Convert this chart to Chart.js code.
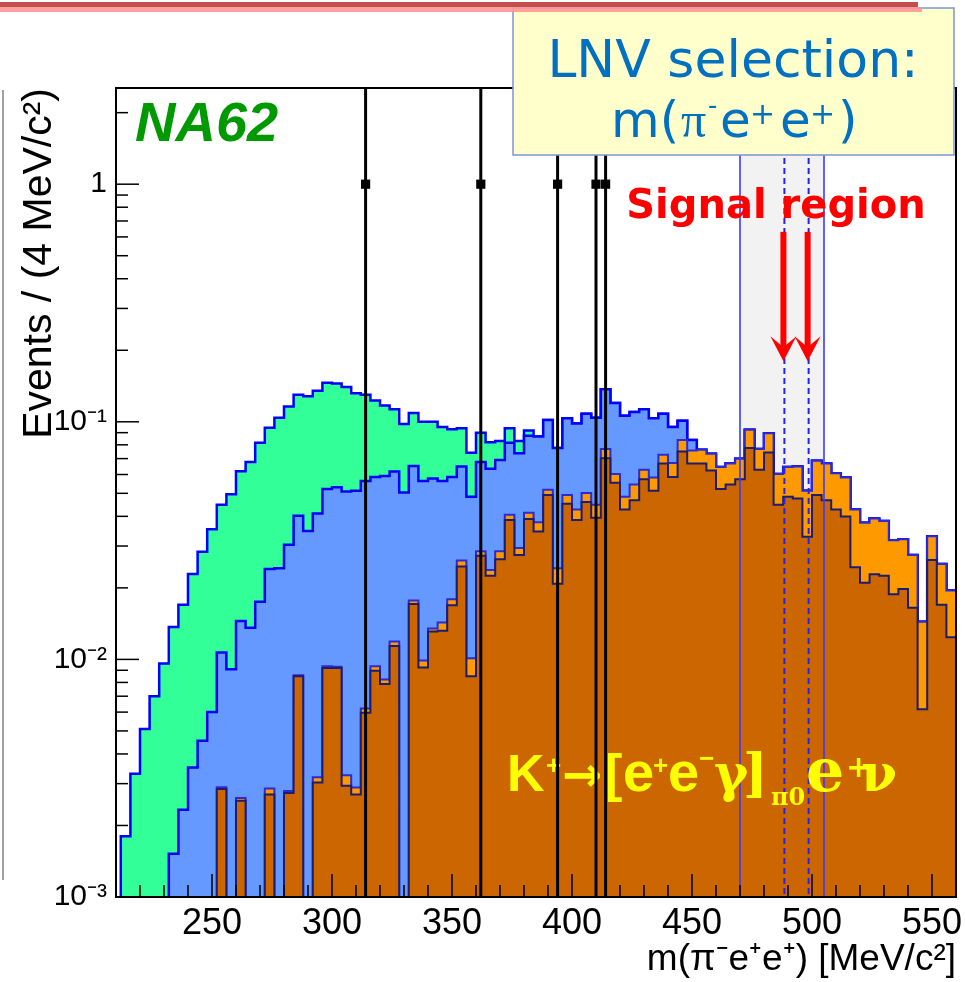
<!DOCTYPE html>
<html>
<head>
<meta charset="utf-8">
<script src="https://cdn.jsdelivr.net/npm/chart.js@4.4.0/dist/chart.umd.min.js"></script>
<style>
  html, body { margin: 0; padding: 0; background: #fff; }
  #wrap { width: 965px; height: 982px; }
</style>
</head>
<body>
<div id="wrap"><canvas id="chart" width="965" height="982"></canvas></div>
<script>
/* ---------------- DATA ---------------- */
// 4 MeV bins, first bin starts at 212 MeV
const binStart = 212;
const binWidth = 4;

// stacked heights (events / bin), bottom layer first
const brownTop = [0,0,0,0,0,0,0,0,0,0,
  0.00285,0,0.00254,0,0,0.0027,0,0.00274,0.0085,0,
  0.00303,0.0092,0.0092,0.00294,0.0027,0.00597,0.00895,0.00787,0.0114,0,
  0.0171,0.00925,0.0131,0.0132,0.0169,0.0246,0.0085,0.0273,0.0225,0.0264,
  0.0386,0.0275,0.0390,0.0345,0.0492,0.0208,0.0452,0.0386,0.0460,0.0395,
  0.0702,0.0554,0.0427,0.0468,0.0573,0.0513,0.0667,0.0586,0.0750,0.0667,
  0.0667,0.0623,0.0521,0.0545,0.0573,0.0776,0.0628,0.0743,0.0448,0.0484,
  0.0476,0.0328,0.0492,0.0468,0.0427,0.0399,0.0244,0.0210,0.0228,0.0225,
  0.0188,0.0198,0.0165,0.00617,0.0262,0.0170,0.0124];

const orangeTop = [0,0,0,0,0,0,0,0,0,0,
  0.0029,0,0.00261,0,0,0.00286,0,0.00279,0.00857,0,
  0.00319,0.00935,0.00932,0.00325,0.00289,0.00621,0.00935,0.00822,0.0119,0,
  0.0177,0.0099,0.0135,0.0143,0.0179,0.0261,0.0101,0.0285,0.0238,0.0285,
  0.0406,0.0294,0.0414,0.0378,0.0518,0.0242,0.0492,0.0427,0.0501,0.0448,
  0.0768,0.0603,0.0484,0.0545,0.0628,0.0583,0.0726,0.0671,0.0839,0.0758,
  0.0763,0.0733,0.0645,0.0667,0.0699,0.0925,0.0768,0.0895,0.0603,0.0645,
  0.0649,0.0513,0.0685,0.0667,0.0607,0.0583,0.0427,0.0376,0.0392,0.0382,
  0.0317,0.0320,0.0275,0.0144,0.0330,0.0252,0.0195];

const blueTop = [0,0,0,0,0,0.00152,0.00233,0.00351,0.00455,0.00601,
  0.0107,0.0091,0.0145,0.0136,0.0175,0.0240,0.0242,0.0304,0.0402,0.0347,
  0.0411,0.0521,0.0530,0.0509,0.0513,0.0563,0.0586,0.0592,0.0617,0.0504,
  0.0651,0.0563,0.0577,0.0563,0.0586,0.0649,0.0484,0.0678,0.0634,0.0690,
  0.0817,0.0738,0.0874,0.0868,0.1017,0.0776,0.1034,0.0983,0.108,0.104,
  0.137,0.120,0.106,0.110,0.113,0.1034,0.108,0.0951,0.101,0.0839,
  0.0763,0.0733,0.0645,0.0667,0.0699,0.0925,0.0768,0.0895,0.0603,0.0645,
  0.0649,0.0513,0.0685,0.0667,0.0607,0.0583,0.0427,0.0376,0.0392,0.0382,
  0.0317,0.0320,0.0275,0.0144,0.0330,0.0252,0.0195];

const greenTop = [0.0018,0.0033,0.0051,0.0070,0.0096,0.0137,0.0170,0.0229,0.0284,0.0353,
  0.0448,0.0495,0.0619,0.0678,0.0816,0.0944,0.104,0.116,0.130,0.128,
  0.135,0.146,0.145,0.140,0.132,0.130,0.123,0.117,0.113,0.098,
  0.109,0.100,0.100,0.095,0.093,0.094,0.074,0.090,0.082,0.083,
  0.094,0.083,0.092,0.0868,0.1017,0.0776,0.1034,0.0983,0.108,0.104,
  0.137,0.120,0.106,0.110,0.113,0.1034,0.108,0.0951,0.101,0.0839,
  0.0763,0.0733,0.0645,0.0667,0.0699,0.0925,0.0768,0.0895,0.0603,0.0645,
  0.0649,0.0513,0.0685,0.0667,0.0607,0.0583,0.0427,0.0376,0.0392,0.0382,
  0.0317,0.0320,0.0275,0.0144,0.0330,0.0252,0.0195];

// data events
const dataMass = [314, 362, 394, 410, 414];
const dataCount = [1, 1, 1, 1, 1];
const dataErrLow = [1, 1, 1, 1, 1];
const dataErrHigh = [2.3, 2.3, 2.3, 2.3, 2.3];

// axes
const xTickValues = [250, 300, 350, 400, 450, 500, 550];
const yTickValues = [0.001, 0.01, 0.1, 1];
const yTickLabels = ["10\u207B\u00B3", "10\u207B\u00B2", "10\u207B\u00B9", "1"];

// signal region (MeV) and arrow span (events)
const signalBand = [470, 505];
const signalWindow = [488.5, 498.6];
const arrowSpan = [0.63, 0.18];

/* ---------------- HELPERS ---------------- */
const FLOOR = 1e-6; // empty bins drop below the axis

function steps(values) {
  const pts = [{ x: binStart, y: FLOOR }];
  values.forEach((v, i) => pts.push({ x: binStart + i * binWidth, y: v > 0 ? v : FLOOR }));
  const last = values[values.length - 1];
  const end = binStart + values.length * binWidth;
  pts.push({ x: end, y: last > 0 ? last : FLOOR });
  pts.push({ x: end, y: FLOOR });
  return pts;
}

function hist(label, values, fill, stroke, w) {
  return {
    label, data: steps(values), stepped: true, fill: "start",
    backgroundColor: fill, borderColor: stroke, borderWidth: w,
    pointRadius: 0, tension: 0
  };
}

function line(ctx, x1, y1, x2, y2) {
  ctx.beginPath();
  ctx.moveTo(x1, y1);
  ctx.lineTo(x2, y2);
  ctx.stroke();
}

function pieces(ctx, list) {
  list.forEach(([t, px, py, f]) => { ctx.font = f; ctx.fillText(t, px, py); });
}

const SANS = '"Liberation Sans", Arial, sans-serif';

/* ---------------- OVERLAYS ---------------- */
const overlay = {
  id: "overlay",
  beforeDatasetsDraw(chart) {
    const { ctx, chartArea: a, scales: { x } } = chart;
    const x0 = x.getPixelForValue(signalBand[0]);
    const x1 = x.getPixelForValue(signalBand[1]);
    ctx.save();
    ctx.fillStyle = "#f2f2f2";
    ctx.fillRect(x0, a.top, x1 - x0, a.bottom - a.top);
    ctx.restore();
  },
  afterDatasetsDraw(chart) {
    const { ctx, chartArea: a, scales: { x, y } } = chart;
    ctx.save();
    ctx.beginPath();
    ctx.rect(a.left, a.top, a.right - a.left, a.bottom - a.top);
    ctx.clip();

    // signal band edges + window
    ctx.strokeStyle = "#3a3aff";
    ctx.lineWidth = 1.6;
    signalBand.forEach(m => {
      const px = x.getPixelForValue(m);
      line(ctx, px, a.top, px, a.bottom);
    });
    ctx.strokeStyle = "#2424ee";
    ctx.lineWidth = 2;
    ctx.setLineDash([6, 4]);
    signalWindow.forEach(m => {
      const px = x.getPixelForValue(m);
      line(ctx, px, a.top, px, a.bottom);
    });
    ctx.setLineDash([]);

    // decay label
    ctx.fillStyle = "#ffff00";
    ctx.textBaseline = "alphabetic";
    const lb = '"Liberation Sans"', db = '"DejaVu Sans"', sf = '"DejaVu Serif"';
    pieces(ctx, [
      ["K", 507, 791, "bold 52px " + lb],
      ["+", 546, 774, "bold 26px " + lb],
      ["\u2192", 562, 791, "bold 48px " + db],
      ["[", 605, 791, "bold 52px " + lb],
      ["e", 623, 791, "bold 56px " + lb],
      ["+", 653, 774, "bold 26px " + lb],
      ["e", 668, 791, "bold 56px " + lb],
      ["\u2212", 699, 767, "bold 26px " + lb],
      ["\u03B3", 714, 791, "bold 52px " + sf],
      ["]", 743, 791, "bold 52px " + sf],
      ["\u03C00", 771, 805, "bold 24px " + sf],
      ["e", 806, 791, "bold 60px " + sf],
      ["+", 846, 777, "bold 30px " + sf],
      ["\u03BD", 861, 791, "bold 52px " + sf]
    ]);

    // data error bars
    ctx.strokeStyle = "#000";
    ctx.lineWidth = 3;
    dataMass.forEach((m, i) => {
      const px = x.getPixelForValue(m);
      const lo = dataCount[i] - dataErrLow[i];
      const hi = dataCount[i] + dataErrHigh[i];
      const yLo = lo > 0 ? y.getPixelForValue(lo) : a.bottom;
      line(ctx, px, yLo, px, y.getPixelForValue(hi));
    });
    ctx.restore();

    // ticks inside the frame
    ctx.save();
    ctx.strokeStyle = "#000";
    ctx.lineWidth = 1.5;
    x.ticks.forEach(t => {
      const v = Math.round(t.value);
      if (v % 10 !== 0) return;
      const px = x.getPixelForValue(v);
      line(ctx, px, a.bottom, px, a.bottom - (v % 50 === 0 ? 23 : 12));
    });
    y.ticks.forEach(t => {
      const e = Math.floor(Math.log10(t.value) + 1e-9);
      const mant = t.value / Math.pow(10, e);
      if (Math.abs(mant - Math.round(mant)) > 1e-6) return;
      const py = y.getPixelForValue(t.value);
      line(ctx, a.left, py, a.left + (Math.round(mant) === 1 ? 23 : 12), py);
    });
    ctx.lineWidth = 2;
    ctx.strokeRect(a.left, a.top, a.right - a.left, a.bottom - a.top);

    // NA62 tag
    ctx.fillStyle = "#009900";
    ctx.font = "italic bold 56px " + SANS;
    ctx.fillText("NA62", 135, 141);

    // signal region label + arrows
    ctx.fillStyle = "#ff0000";
    ctx.font = 'bold 40px "DejaVu Sans"';
    ctx.textAlign = "center";
    ctx.fillText("Signal region", 776, 218);
    ctx.textAlign = "left";
    ctx.strokeStyle = "#ff0000";
    ctx.lineWidth = 6;
    const yA = y.getPixelForValue(arrowSpan[0]);
    const yT = y.getPixelForValue(arrowSpan[1]);
    signalWindow.forEach(m => {
      const px = x.getPixelForValue(m) - 1;
      line(ctx, px, yA, px, yT - 14);
      ctx.beginPath();
      ctx.moveTo(px, yT);
      ctx.lineTo(px - 13, yT - 25);
      ctx.lineTo(px, yT - 14);
      ctx.lineTo(px + 13, yT - 25);
      ctx.closePath();
      ctx.fill();
    });

    // selection box
    ctx.fillStyle = "#ffffcc";
    ctx.fillRect(513, 8, 441, 147);
    ctx.strokeStyle = "#7b96d4";
    ctx.lineWidth = 1.5;
    ctx.strokeRect(513, 8, 441, 147);
    ctx.fillStyle = "#0070c0";
    ctx.font = '52px "DejaVu Sans"';
    ctx.textAlign = "center";
    ctx.fillText("LNV selection:", 733, 77);
    ctx.textAlign = "left";
    pieces(ctx, [
      ["m(", 611, 137, '50px "DejaVu Sans"'],
      ["\u03C0", 681, 137, '50px "Liberation Serif"'],
      ["-", 708, 114, '26px "DejaVu Sans"'],
      ["e", 720, 137, '50px "DejaVu Sans"'],
      ["+", 750, 124, '30px "DejaVu Sans"'],
      ["e", 780, 137, '50px "DejaVu Sans"'],
      ["+", 810, 124, '30px "DejaVu Sans"'],
      [")", 838, 137, '50px "DejaVu Sans"']
    ]);

    // slide decorations
    ctx.fillStyle = "#c0504d";
    ctx.fillRect(0, 2, 918, 5);
    ctx.fillStyle = "rgba(255,150,150,0.9)";
    ctx.fillRect(0, 7, 922, 5);
    ctx.strokeStyle = "#a0a0a0";
    ctx.lineWidth = 2;
    line(ctx, 3, 90, 3, 880);
    ctx.restore();
  }
};

/* ---------------- CHART ---------------- */
Chart.defaults.font.family = SANS;
Chart.defaults.color = "#000";

new Chart(document.getElementById("chart"), {
  type: "line",
  data: {
    datasets: [
      {
        label: "Data",
        data: dataMass.map((m, i) => ({ x: m, y: dataCount[i] })),
        showLine: false, fill: false,
        pointStyle: "rect", pointRadius: 6.5,
        backgroundColor: "#000", borderColor: "#000", borderWidth: 0
      },
      hist("brown", brownTop, "#cc6600", "#1c1c70", 2),
      hist("orange", orangeTop, "#ff9900", "#2a2ad8", 2),
      hist("blue", blueTop, "#6699ff", "#0000ff", 2.5),
      hist("green", greenTop, "#33ff99", "#0000ff", 2.5)
    ]
  },
  options: {
    responsive: false,
    animation: false,
    devicePixelRatio: 1,
    layout: { padding: { left: 0, right: 9, top: 88, bottom: 0 } },
    plugins: { legend: { display: false }, tooltip: { enabled: false } },
    scales: {
      x: {
        type: "linear", min: 210, max: 560,
        afterFit: s => { s.height = 85; },
        grid: { display: false, drawTicks: false },
        border: { display: true, color: "#000", width: 2 },
        ticks: {
          stepSize: 10, autoSkip: false, maxRotation: 0, padding: 5,
          font: { size: 36 },
          callback: v => xTickValues.includes(Math.round(v)) ? String(Math.round(v)) : ""
        },
        title: {
          display: true, text: "m(\u03C0\u207Be\u207Ae\u207A) [MeV/c\u00B2]", align: "end",
          font: { size: 37, lineHeight: 1 }, padding: { top: 0, bottom: 4 }
        }
      },
      y: {
        type: "logarithmic", min: 0.001, max: 2.54,
        afterFit: s => { s.width = 116; },
        grid: { display: false, drawTicks: false },
        border: { display: true, color: "#000", width: 2 },
        ticks: {
          autoSkip: false, padding: 9,
          font: { size: 30 },
          callback: v => {
            const k = yTickValues.findIndex(t => Math.abs(t - v) / t < 1e-6);
            return k >= 0 ? yTickLabels[k] : "";
          }
        },
        title: {
          display: true, text: "Events / (4 MeV/c\u00B2)", align: "end",
          font: { size: 41, lineHeight: 1 }, padding: { top: 19, bottom: 0 }
        }
      }
    }
  },
  plugins: [overlay]
});
</script>
</body>
</html>
